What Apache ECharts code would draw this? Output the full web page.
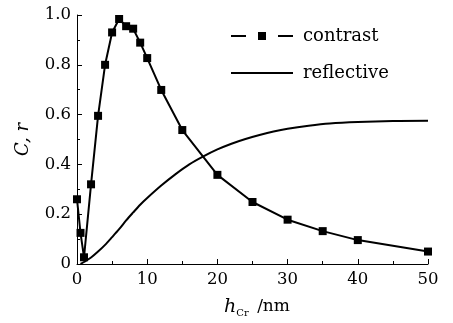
<!DOCTYPE html>
<html>
<head>
<meta charset="utf-8">
<script src="https://cdn.jsdelivr.net/npm/echarts@6/dist/echarts.min.js"></script>
<style>html,body{margin:0;padding:0;background:#fff;}#c{width:453px;height:323px;}</style>
</head>
<body>
<div id="c"></div>
<script>
var contrastX = [0, 0.5, 1, 2, 3, 4, 5, 6, 7, 8, 9, 10, 12, 15, 20, 25, 30, 35, 40, 50];
var contrastY = [0.26, 0.125, 0.027, 0.32, 0.595, 0.80, 0.93, 0.984, 0.955, 0.945, 0.889, 0.827, 0.699, 0.538, 0.358, 0.249, 0.178, 0.132, 0.096, 0.05];
var reflectX = [0.5, 1, 2, 3, 4, 5, 6, 7, 8, 9, 10, 12, 14, 16, 18, 20, 22, 24, 26, 28, 30, 33, 36, 40, 45, 50];
var reflectY = [0.0, 0.008, 0.026, 0.05, 0.077, 0.108, 0.14, 0.175, 0.207, 0.238, 0.265, 0.315, 0.36, 0.4, 0.432, 0.46, 0.483, 0.502, 0.518, 0.532, 0.543, 0.555, 0.564, 0.57, 0.574, 0.575];
var xTicks = [0, 10, 20, 30, 40, 50];
var yTicks = [0, 0.2, 0.4, 0.6, 0.8, 1.0];
var seriesNames = ['contrast', 'reflective'];

function pairs(xs, ys) { return xs.map(function (x, i) { return [x, ys[i]]; }); }

var font = 'DejaVu Serif';
var chart = echarts.init(document.getElementById('c'), null, {renderer: 'canvas'});
chart.setOption({
  animation: false,
  backgroundColor: '#fff',
  grid: {left: 77, right: 25, top: 15, bottom: 53},
  legend: {
    orient: 'vertical', left: 230, top: 20, padding: 0,
    itemWidth: 62, itemHeight: 25, itemGap: 11,
    textStyle: {fontFamily: font, fontSize: 18, color: '#000', padding: [0, 0, 0, 5]},
    data: [
      {name: seriesNames[0], itemStyle: {color: '#000', borderColor: '#fff', borderWidth: 12}},
      {name: seriesNames[1], itemStyle: {opacity: 0}}
    ]
  },
  xAxis: {
    type: 'value', min: xTicks[0], max: xTicks[xTicks.length - 1], interval: 10,
    axisLine: {lineStyle: {color: '#000', width: 1}},
    axisTick: {inside: true, length: 5, lineStyle: {color: '#000'}},
    minorTick: {show: true, splitNumber: 2, length: 3, lineStyle: {color: '#000'}},
    splitLine: {show: false},
    axisLabel: {fontFamily: font, fontSize: 16.5, color: '#000', margin: 7},
    name: '{i|h}{s|Cr} /nm', nameLocation: 'middle', nameGap: 32,
    nameTextStyle: {
      fontFamily: font, fontSize: 17, color: '#000', padding: [0, 0, 0, 9],
      rich: {
        i: {fontFamily: font, fontSize: 19, fontStyle: 'italic', color: '#000'},
        s: {fontFamily: font, fontSize: 10, color: '#000', padding: [12, 3, 0, 0]}
      }
    }
  },
  yAxis: {
    type: 'value', min: yTicks[0], max: yTicks[yTicks.length - 1], interval: 0.2,
    axisLine: {show: true, lineStyle: {color: '#000', width: 1}},
    axisTick: {show: true, inside: true, length: 5, lineStyle: {color: '#000'}},
    minorTick: {show: true, splitNumber: 2, length: 3, lineStyle: {color: '#000'}},
    splitLine: {show: false},
    axisLabel: {fontFamily: font, fontSize: 16.5, color: '#000', margin: 6,
      formatter: function (v) { return v === 0 ? '0' : v.toFixed(1); }},
    name: 'C, r', nameLocation: 'middle', nameGap: 45, nameRotate: 90,
    nameTextStyle: {fontFamily: font, fontSize: 18, fontStyle: 'italic', color: '#000'}
  },
  series: [
    {
      name: seriesNames[0], type: 'line', data: pairs(contrastX, contrastY),
      symbol: 'rect', symbolSize: 8, clip: false,
      lineStyle: {color: '#000', width: 2}, itemStyle: {color: '#000'}
    },
    {
      name: seriesNames[1], type: 'line', data: pairs(reflectX, reflectY),
      symbol: 'none', smooth: 0.3,
      lineStyle: {color: '#000', width: 2}, itemStyle: {color: '#000'}
    }
  ]
});
</script>
</body>
</html>
